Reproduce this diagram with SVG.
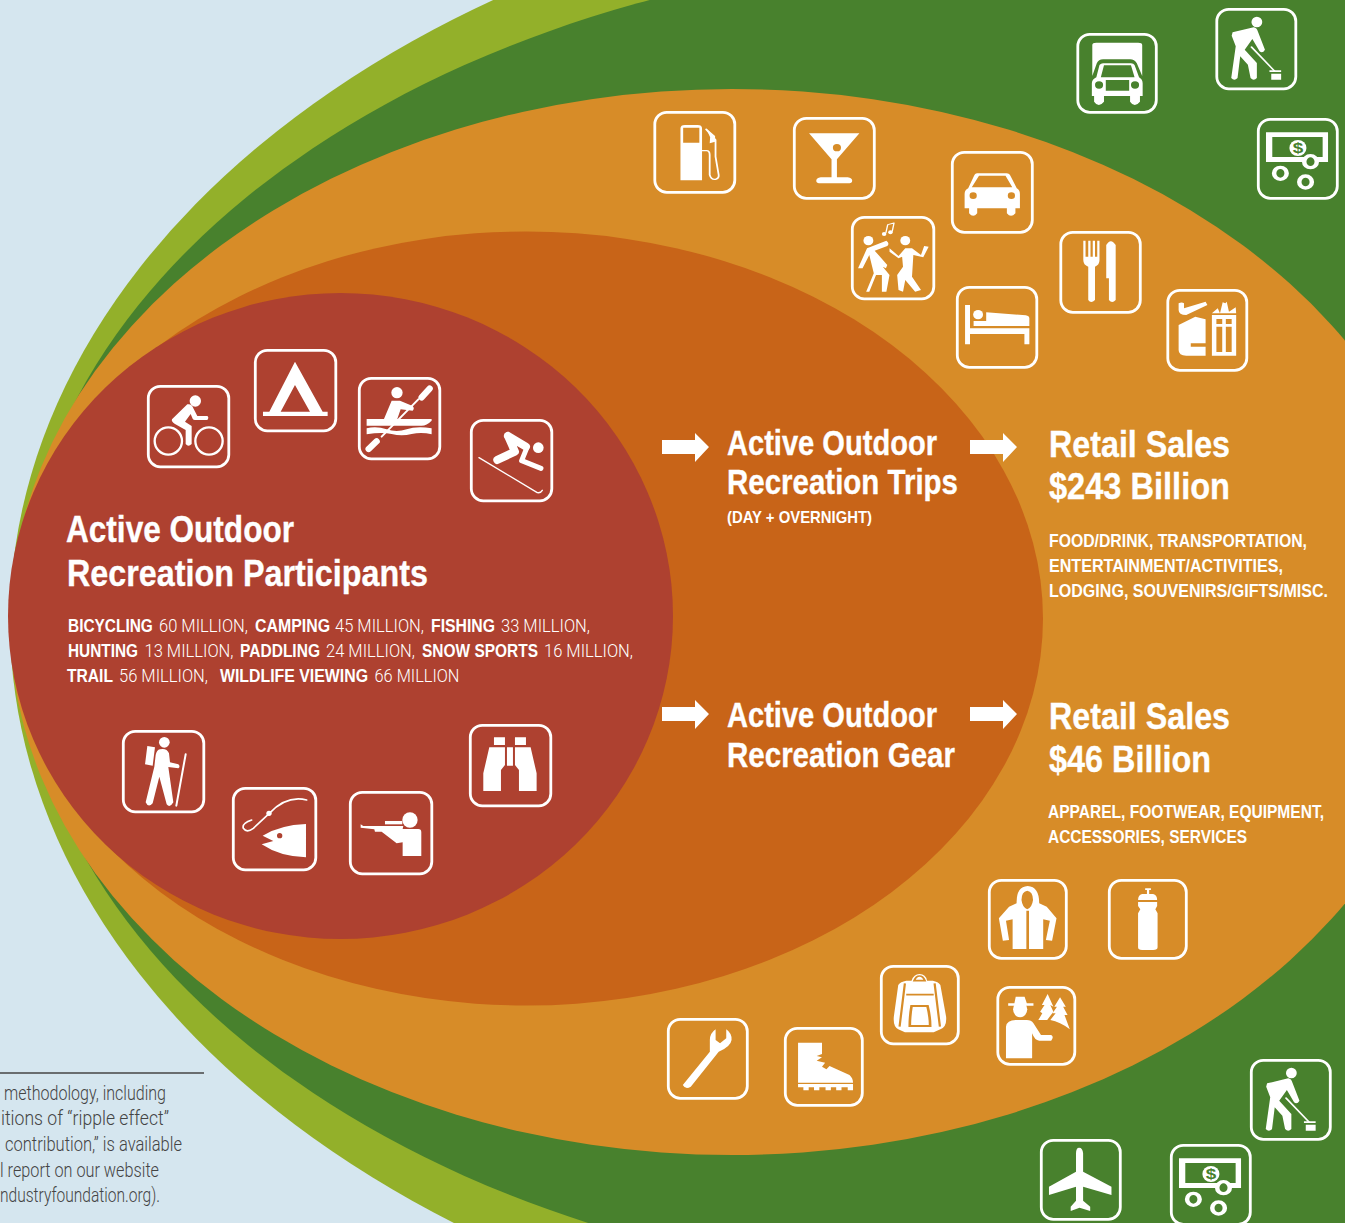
<svg xmlns="http://www.w3.org/2000/svg" xmlns:xlink="http://www.w3.org/1999/xlink" width="1345" height="1223" viewBox="0 0 1345 1223">
<style>
.b{fill:none;stroke:#fff;stroke-width:2.8}
.w{fill:#fff}
.e{fill:#fff;fill-rule:evenodd}
.s{fill:none;stroke:#fff;stroke-linecap:round;stroke-linejoin:round}
text{fill:#fff;font-family:"Liberation Sans Narrow","Liberation Sans",Arial,sans-serif;font-weight:700}
.h1{font-size:37px;stroke:#fff;stroke-width:.35}
.h2{font-size:35px;stroke:#fff;stroke-width:.35}
.m{font-size:18.5px}
.l{font-family:Roboto,"Liberation Sans",sans-serif;font-weight:300;font-size:18.5px}
.f{fill:#444;font-family:Roboto,"Liberation Sans",sans-serif;font-weight:300;font-size:19.5px}
</style>
<defs>
<g id="sweeper" transform="scale(.4496 .3333) translate(-1280 -25)">
<ellipse class="w" cx="1372" cy="67" rx="12" ry="16"/>
<path class="w" d="M1318,98 L1365,83 Q1372,85 1374,95 L1390,150 Q1385,162 1378,155 L1362,118 L1345,150 L1372,190 L1372,235 Q1365,245 1358,235 L1352,195 L1335,170 L1329,235 Q1322,245 1315,235 L1325,140 L1316,108Z"/>
<path class="s" stroke-width="4" d="M1360,142 L1412,215"/>
<path class="w" d="M1400,212 H1426 V217 H1400Z M1404,222 H1426 V240 H1404Z"/>
</g>
<g id="money" transform="scale(.4496 .3333) translate(-1372 -353)">
<path class="e" d="M1392,396 H1530 V485 H1392Z M1406,410 V470 H1518 V410Z"/>
<ellipse class="w" cx="1463" cy="443" rx="19" ry="24"/>
<text x="1463" y="458" text-anchor="middle" font-size="42" style="fill:#48812d">$</text>
<ellipse cx="1491" cy="484" rx="14" ry="18" fill="#48812d" stroke="#fff" stroke-width="10"/>
<ellipse class="s" cx="1424" cy="519" rx="14" ry="18" stroke-width="10"/>
<ellipse class="s" cx="1480" cy="545" rx="14" ry="18" stroke-width="10"/>
</g>
</defs>

<rect width="1345" height="1223" fill="#d5e6ef"/>
<g id="bands">
<ellipse cx="1110" cy="621" rx="1100" ry="750" fill="#93b02a"/>
<ellipse cx="1020" cy="620.500" rx="1000" ry="668" fill="#48812d"/>
<rect x="1000" y="0" width="345" height="1223" fill="#48812d"/>
<ellipse cx="732" cy="622" rx="722" ry="533" fill="#d78c28"/>
<ellipse cx="526" cy="618.500" rx="517" ry="387" fill="#c86418"/>
<ellipse cx="340.500" cy="616" rx="332.500" ry="323" fill="#ae4130"/>
</g>

<g id="connectors" class="w">
<path d="M662,440 H695 V433 L709,447 L695,462 V454 H662Z"/>
<path d="M970,440 H1003 V433 L1017,447 L1003,462 V454 H970Z"/>
<path d="M662,707 H695 V700 L709,714 L695,729 V721 H662Z"/>
<path d="M970,707 H1003 V700 L1017,714 L1003,729 V721 H970Z"/>
</g>

<!-- participant icons -->
<g id="icon-bicycling"><rect class="b" x="148.300" y="386.300" width="80.500" height="80.500" rx="12"/>
<g transform="translate(110 340) scale(.3333)">
<circle class="s" cx="175" cy="303" r="41" stroke-width="7"/><circle class="s" cx="297" cy="303" r="41" stroke-width="7"/>
<circle class="w" cx="256" cy="183" r="17"/>
<path class="w" d="M186,238 L232,193 Q245,190 250,205 L262,228 L292,228 Q298,233 292,240 L255,240 Q250,240 248,236 L242,222 L225,245 L245,258 L245,312 Q235,322 227,312 L227,270 L195,252 Q183,245 186,238Z"/>
</g></g>
<g id="icon-camping"><rect class="b" x="255.300" y="350.300" width="80.500" height="80.500" rx="12"/>
<g transform="translate(110 340) scale(.3333)">
<path class="e" d="M555,65 L638,215 H653 V228 H459 V215 H478Z M555,135 L512,215 H600Z"/>
</g></g>
<g id="icon-paddling"><rect class="b" x="359.300" y="378.300" width="80.500" height="80.500" rx="12"/>
<g transform="translate(110 340) scale(.3333)">
<circle class="w" cx="861" cy="158" r="17"/>
<path class="s" stroke-width="6" d="M925,178 L815,290"/>
<path class="s" stroke-width="19" d="M935,172 L959,146 M776,327 L800,304"/>
<path class="w" d="M845,182 L870,182 L908,198 Q915,205 908,212 L872,208 L862,237 L822,237Z"/>
<path class="w" d="M770,237 H965 V242 Q950,257 935,257 H770Z"/>
<path class="w" d="M770,265 Q800,258 830,268 T890,268 T965,265 V283 Q935,275 905,282 T845,282 T770,283Z"/>
</g></g>
<g id="icon-snow-sports"><rect class="b" x="471.300" y="420.300" width="80.500" height="80.500" rx="12"/>
<g transform="translate(110 340) scale(.3333)">
<circle class="w" cx="1285" cy="323" r="16"/>
<path class="s" stroke-width="4" d="M1107,353 L1282,458 Q1292,460 1297,451"/>
<path class="s" stroke-width="24" d="M1194,288 L1248,320 M1194,288 L1215,335 L1162,360"/>
<path class="s" stroke-width="15" d="M1250,325 L1235,362 L1293,385"/>
</g></g>
<g id="icon-trail"><rect class="b" x="123.300" y="731.300" width="80.500" height="80.500" rx="12"/>
<g transform="translate(110 715) scale(.3333)">
<circle class="w" cx="163" cy="82" r="16"/>
<path class="w" d="M112,93 L135,97 L128,152 L105,148Z"/>
<path class="w" d="M150,103 Q170,98 177,115 L180,142 L205,148 Q212,155 205,160 L175,156 L190,262 Q180,280 170,268 L148,185 L128,265 Q115,280 107,262 L133,155 L137,120 Q140,105 150,103Z"/>
<path class="s" stroke-width="6" d="M227,118 L199,272"/>
</g></g>
<g id="icon-fishing"><rect class="b" x="233.300" y="788.300" width="82.500" height="81.500" rx="12"/>
<g transform="translate(110 715) scale(.3333)">
<path class="s" stroke-width="5" d="M590,255 Q530,240 478,295 L430,340 Q410,355 400,340 Q395,325 425,315"/>
<circle class="w" cx="477" cy="295" r="8"/>
<path class="e" d="M588,327 V427 Q510,425 455,388 L490,378 L458,362 Q510,330 588,327Z M509,354 A8,8 0 1 0 509.100,370 A8,8 0 1 0 509,354Z"/>
</g></g>
<g id="icon-hunting"><rect class="b" x="350.300" y="792.300" width="81.500" height="81.500" rx="12"/>
<g transform="translate(110 715) scale(.3333)">
<circle class="w" cx="900" cy="315" r="23"/>
<rect class="w" x="825" y="318" width="52" height="10"/>
<path class="w" d="M878,342 H925 Q934,342 934,352 V423 H878 V382 L860,385 L815,350 H795 L793,343 L752,338 V328 L760,333 H880Z"/>
</g></g>
<g id="icon-wildlife-viewing"><rect class="b" x="470.300" y="725.300" width="80.500" height="80.500" rx="12"/>
<g transform="translate(110 715) scale(.3333)">
<path class="w" d="M1152,67 H1185 V90 H1152Z M1215,67 H1248 V90 H1215Z M1191,97 H1209 V152 H1191Z M1138,97 H1185 V150 L1173,165 V228 H1120 V175Z M1262,97 H1215 V150 L1227,165 V228 H1280 V175Z"/>
</g></g>

<!-- trip icons -->
<g id="icon-gas"><rect class="b" x="654.800" y="112.300" width="80" height="80" rx="12"/>
<g transform="translate(640 0) scale(.4496 .3333)">
<path class="e" d="M90,385 Q90,375 100,375 H128 Q138,375 138,385 V541 H90Z M96,383 V428 H132 V383Z"/>
<path class="s" stroke-width="4" d="M138,452 H148 Q155,452 155,465 L155,525 Q158,540 168,538 Q176,535 175,525 L168,470 V420 L147,388"/>
<path class="w" d="M147,385 L167,408 V425 L155,430 L156,412Z"/>
</g></g>
<g id="icon-drink"><rect class="b" x="794.300" y="118.300" width="80" height="80" rx="12"/>
<g transform="translate(640 0) scale(.4496 .3333)">
<path class="e" d="M376,400 H488 L438,478 V532 H462 Q472,534 472,542 Q472,550 462,550 H402 Q392,550 392,542 Q392,534 402,532 H426 V478Z M438,432 A9,11 0 1 0 438.100,454 A9,11 0 1 0 438,432Z"/>
</g></g>
<g id="icon-car"><rect class="b" x="952.300" y="152.300" width="80" height="80" rx="12"/>
<g transform="translate(640 0) scale(.4496 .3333)">
<path class="e" d="M750,520 H815 Q822,520 825,530 L838,565 Q845,570 845,582 V625 H835 V640 Q825,655 816,640 V625 H750 V640 Q741,655 732,640 V625 H722 V582 Q722,570 730,565 L742,530 Q745,520 750,520Z M754,527 L738,562 H828 L813,527Z M741,577 A8,10 0 1 0 741.100,597 A8,10 0 1 0 741,577Z M826,577 A8,10 0 1 0 826.100,597 A8,10 0 1 0 826,577Z"/>
</g></g>
<g id="icon-entertainment"><rect class="b" x="852.300" y="217.300" width="81.500" height="81.500" rx="12"/>
<g transform="translate(640 0) scale(.4496 .3333)">
<ellipse class="w" cx="508" cy="722" rx="11" ry="14"/><ellipse class="w" cx="590" cy="722" rx="11" ry="14"/>
<path class="s" stroke-width="3" d="M547,698 L551,674 L565,669 L561,694"/>
<ellipse class="w" cx="543" cy="702" rx="5" ry="6"/><ellipse class="w" cx="557" cy="697" rx="5" ry="6"/>
<path class="w" d="M505,745 L548,722 Q556,730 550,738 L522,752 L550,795 L547,805 L540,800 L555,825 L548,875 H538 L538,825 L525,825 L510,875 H503 L520,820 L510,765 L495,805 H485 L500,760Z"/>
<path class="w" d="M555,745 L575,768 L590,745 L605,745 L625,765 L632,738 L642,740 L630,772 L608,765 L605,830 L625,870 L612,875 L590,840 L585,875 L575,870 L572,825 L585,800 L583,770 L575,775 L555,755Z"/>
</g></g>
<g id="icon-food"><rect class="b" x="1060.800" y="232.300" width="79.500" height="80" rx="12"/>
<g transform="translate(640 0) scale(.4496 .3333)">
<path class="w" d="M986,722 V780 Q986,795 997,800 V900 Q1003,912 1012,900 V800 Q1022,795 1022,780 V722 H1017 V770 H1012 V722 H1007 V770 H1002 V722 H997 V770 H991 V722Z"/>
<path class="w" d="M1037,735 Q1047,712 1058,735 V900 Q1050,912 1043,900 V835 H1037Z"/>
</g></g>
<g id="icon-lodging"><rect class="b" x="957.300" y="287.300" width="79.500" height="80" rx="12"/>
<g transform="translate(640 0) scale(.4496 .3333)">
<ellipse class="w" cx="752" cy="944" rx="11" ry="14"/>
<path class="w" d="M723,915 H734 V985 H866 V1033 H855 V1002 H734 V1033 H723Z"/>
<path class="w" d="M770,937 L858,946 Q866,948 866,955 V978 H742 V963 H770Z"/>
</g></g>
<g id="icon-souvenirs"><rect class="b" x="1167.800" y="290.300" width="79" height="80" rx="12"/>
<g transform="translate(640 0) scale(.4496 .3333)">
<path class="w" d="M1198,910 Q1205,905 1210,910 V925 L1258,905 L1262,915 L1215,945 Q1198,945 1198,930Z"/>
<path class="w" d="M1235,950 L1258,958 V1030 H1225 V1040 H1258 V1067 H1215 Q1198,1067 1198,1050 V975Z"/>
<path class="e" d="M1272,945 H1326 V1067 H1272Z M1282,957 V972 H1295 V957Z M1303,957 V972 H1316 V957Z M1282,980 V1056 H1295 V980Z M1303,980 V1056 H1316 V980Z"/>
<path class="w" d="M1272,940 L1285,925 L1290,940 L1296,907 L1302,910 L1305,905 L1310,935 L1325,922 L1326,940Z"/>
</g></g>
<g id="icon-truck"><rect class="b" x="1077.800" y="34.300" width="78.500" height="78" rx="12"/>
<g transform="translate(640 0) scale(.4496 .3333)">
<path class="w" d="M1006,135 Q1006,128 1015,128 H1108 Q1117,128 1117,135 V228 L1105,190 Q1100,178 1090,178 H1030 Q1020,178 1016,190 L1006,228Z"/>
<path class="e" d="M1030,190 H1092 Q1098,190 1100,195 L1110,232 Q1118,238 1118,250 V288 H1112 V305 Q1100,325 1090,305 V288 H1032 V305 Q1020,325 1010,305 V288 H1005 V250 Q1005,238 1015,232 L1022,195 Q1025,190 1030,190Z M1032,196 L1025,232 H1100 L1092,196Z M1021,244 A9,11 0 1 0 1021.100,266 A9,11 0 1 0 1021,244Z M1101,244 A9,11 0 1 0 1101.100,266 A9,11 0 1 0 1101,244Z M1036,240 V272 H1088 V240Z"/>
</g></g>
<g id="icon-services-1"><rect class="b" x="1216.800" y="9.300" width="79" height="79.500" rx="12"/>
<use xlink:href="#sweeper" href="#sweeper" transform="translate(1215.500 8)"/></g>
<g id="icon-taxes-1"><rect class="b" x="1258.300" y="119.300" width="79" height="79" rx="12"/>
<use xlink:href="#money" href="#money" transform="translate(1257 118)"/></g>

<!-- gear icons -->
<g id="icon-apparel"><rect class="b" x="989.300" y="880.300" width="77" height="78" rx="12"/>
<g transform="translate(650 870) scale(.4433 .3333)">
<path class="e" d="M852,48 Q878,50 878,100 L895,110 L917,145 L907,212 L893,210 L902,152 L887,148 V237 H855 V122 H849 V237 H818 V148 L803,152 L810,210 L796,212 L787,145 L810,110 L827,100 Q826,50 852,48Z M851,62 Q838,65 838,90 Q840,112 851,118 Q862,112 864,90 Q864,65 851,62Z"/>
</g></g>
<g id="icon-bottle"><rect class="b" x="1109.300" y="880.300" width="77" height="78" rx="12"/>
<g transform="translate(650 870) scale(.4433 .3333)">
<path class="w" d="M1117,55 H1130 V60 H1126 V72 H1135 Q1144,75 1144,90 H1101 Q1101,75 1110,72 H1121 V60 H1117Z"/>
<path class="w" d="M1101,96 H1144 V108 L1140,118 L1145,130 V232 Q1145,240 1135,240 H1110 Q1101,240 1101,232 V130 L1106,118 L1101,108Z"/>
</g></g>
<g id="icon-backpack"><rect class="b" x="881.300" y="966.300" width="77" height="77.500" rx="12"/>
<g transform="translate(650 870) scale(.4433 .3333)">
<path class="w" d="M608,312 Q622,312 625,332 H638 Q650,335 655,345 L668,440 Q670,470 655,478 L640,487 H575 L560,478 Q548,470 550,440 L560,345 Q565,335 578,332 H590 Q595,312 608,312Z"/>
<path d="M596,332 Q600,318 608,318 Q616,318 620,332Z M575,340 L563,470 M642,340 L654,470 M578,374 H640" fill="none" stroke="#d78c28" stroke-width="5"/>
<path d="M590,408 H626 Q632,440 632,468 H586 Q586,440 590,408Z" fill="#fff" stroke="#d78c28" stroke-width="6"/>
</g></g>
<g id="icon-ranger"><rect class="b" x="997.800" y="987.300" width="77" height="77" rx="12"/>
<g transform="translate(650 870) scale(.4433 .3333)">
<ellipse class="w" cx="835" cy="418" rx="16" ry="24"/>
<path class="w" d="M808,400 H865 V407 H808Z M822,400 L825,380 H845 L850,400Z"/>
<path class="w" d="M803,470 Q805,450 825,450 H850 Q860,450 865,460 L882,495 H905 Q912,500 905,512 H878 Q868,512 862,490 V565 H803Z"/>
<path class="w" d="M897,372 L910,410 L903,405 L910,425 L896,450 H876 L885,430 L880,425 L890,405 L884,405Z"/>
<path class="w" d="M925,382 L938,410 L932,410 L942,435 L935,435 L947,478 Q925,455 903,450 L915,430 L908,430 L918,410 L912,410Z"/>
</g></g>
<g id="icon-wrench"><rect class="b" x="668.300" y="1019.300" width="79" height="79" rx="12"/>
<g transform="translate(650 870) scale(.4433 .3333)">
<path class="w" d="M148,478 V510 L158,520 L172,505 V478 Q185,490 184,510 Q182,530 155,545 L92,650 Q80,660 74,645 L135,545 Q135,525 135,510 Q135,490 148,478Z"/>
</g></g>
<g id="icon-boot"><rect class="b" x="785.300" y="1028.300" width="77" height="77" rx="12"/>
<g transform="translate(650 870) scale(.4433 .3333)">
<path class="w" d="M334,518 H388 V552 L376,558 L388,562 L376,572 L395,578 L388,590 L398,598 L405,588 L450,615 Q458,625 458,638 H334Z"/>
<path class="w" d="M334,642 H458 V661 H446 V652 H432 V661 H420 V652 H408 V661 H396 V652 H382 V661 H370 V652 H358 V661 H346 V652 H334Z"/>
</g></g>
<g id="icon-services-2"><rect class="b" x="1251.300" y="1060.300" width="79" height="79" rx="12"/>
<use xlink:href="#sweeper" href="#sweeper" transform="translate(1250 1059)"/></g>
<g id="icon-plane"><rect class="b" x="1041.300" y="1140.300" width="79" height="79" rx="12"/>
<g transform="translate(650 870) scale(.4433 .3333)">
<path class="w" d="M968,833 Q976,833 977,850 V905 L1041,950 V975 L977,950 V992 L993,1010 V1023 L969,1013 L949,1023 V1010 L961,992 V950 L900,975 V950 L961,905 V850 Q961,833 968,833Z"/>
</g></g>
<g id="icon-taxes-2"><rect class="b" x="1171.300" y="1145.300" width="79" height="79" rx="12"/>
<use xlink:href="#money" href="#money" transform="translate(1170 1144)"/></g>

<!-- text -->
<g id="participants-text">
<text class="h1" x="66" y="541.500" textLength="228" lengthAdjust="spacingAndGlyphs">Active Outdoor</text>
<text class="h1" x="67" y="585.500" textLength="361" lengthAdjust="spacingAndGlyphs">Recreation Participants</text>
<text class="m" transform="translate(68 631.500) scale(.8 1)" textLength="106" lengthAdjust="spacingAndGlyphs">BICYCLING</text>
<text class="l" transform="translate(159 631.500) scale(.85 1)" textLength="104.700" lengthAdjust="spacingAndGlyphs">60 MILLION,</text>
<text class="m" transform="translate(255 631.500) scale(.8 1)" textLength="93.800" lengthAdjust="spacingAndGlyphs">CAMPING</text>
<text class="l" transform="translate(335 631.500) scale(.85 1)" textLength="104.700" lengthAdjust="spacingAndGlyphs">45 MILLION,</text>
<text class="m" transform="translate(431 631.500) scale(.8 1)" textLength="80" lengthAdjust="spacingAndGlyphs">FISHING</text>
<text class="l" transform="translate(501 631.500) scale(.85 1)" textLength="104.700" lengthAdjust="spacingAndGlyphs">33 MILLION,</text>
<text class="m" transform="translate(68 656.500) scale(.8 1)" textLength="87.500" lengthAdjust="spacingAndGlyphs">HUNTING</text>
<text class="l" transform="translate(144.500 656.500) scale(.85 1)" textLength="104.700" lengthAdjust="spacingAndGlyphs">13 MILLION,</text>
<text class="m" transform="translate(240 656.500) scale(.8 1)" textLength="100" lengthAdjust="spacingAndGlyphs">PADDLING</text>
<text class="l" transform="translate(326 656.500) scale(.85 1)" textLength="104.700" lengthAdjust="spacingAndGlyphs">24 MILLION,</text>
<text class="m" transform="translate(422 656.500) scale(.8 1)" textLength="145" lengthAdjust="spacingAndGlyphs">SNOW SPORTS</text>
<text class="l" transform="translate(544 656.500) scale(.85 1)" textLength="104.700" lengthAdjust="spacingAndGlyphs">16 MILLION,</text>
<text class="m" transform="translate(67 681.500) scale(.8 1)" textLength="57.500" lengthAdjust="spacingAndGlyphs">TRAIL</text>
<text class="l" transform="translate(119 681.500) scale(.85 1)" textLength="104.700" lengthAdjust="spacingAndGlyphs">56 MILLION,</text>
<text class="m" transform="translate(220 681.500) scale(.8 1)" textLength="185" lengthAdjust="spacingAndGlyphs">WILDLIFE VIEWING</text>
<text class="l" transform="translate(374.500 681.500) scale(.85 1)" textLength="100" lengthAdjust="spacingAndGlyphs">66 MILLION</text>
</g>
<g id="trips-text">
<text class="h2" x="727" y="455" textLength="210" lengthAdjust="spacingAndGlyphs">Active Outdoor</text>
<text class="h2" x="727" y="494" textLength="231" lengthAdjust="spacingAndGlyphs">Recreation Trips</text>
<text x="727" y="523" font-size="17" textLength="145" lengthAdjust="spacingAndGlyphs">(DAY + OVERNIGHT)</text>
</g>
<g id="trips-sales-text">
<text class="h1" x="1049" y="457" textLength="181" lengthAdjust="spacingAndGlyphs">Retail Sales</text>
<text class="h1" x="1049" y="499" textLength="181" lengthAdjust="spacingAndGlyphs">$243 Billion</text>
<text class="m" transform="translate(1049 546.500) scale(.8 1)" textLength="322.500" lengthAdjust="spacingAndGlyphs">FOOD/DRINK, TRANSPORTATION,</text>
<text class="m" transform="translate(1049 571.500) scale(.8 1)" textLength="292.500" lengthAdjust="spacingAndGlyphs">ENTERTAINMENT/ACTIVITIES,</text>
<text class="m" transform="translate(1049 596.500) scale(.8 1)" textLength="348.800" lengthAdjust="spacingAndGlyphs">LODGING, SOUVENIRS/GIFTS/MISC.</text>
</g>
<g id="gear-text">
<text class="h2" x="727" y="727" textLength="210" lengthAdjust="spacingAndGlyphs">Active Outdoor</text>
<text class="h2" x="727" y="767" textLength="228" lengthAdjust="spacingAndGlyphs">Recreation Gear</text>
</g>
<g id="gear-sales-text">
<text class="h1" x="1049" y="729" textLength="181" lengthAdjust="spacingAndGlyphs">Retail Sales</text>
<text class="h1" x="1049" y="772" textLength="162" lengthAdjust="spacingAndGlyphs">$46 Billion</text>
<text class="m" transform="translate(1048 818) scale(.8 1)" textLength="345" lengthAdjust="spacingAndGlyphs">APPAREL, FOOTWEAR, EQUIPMENT,</text>
<text class="m" transform="translate(1048 843) scale(.8 1)" textLength="248.800" lengthAdjust="spacingAndGlyphs">ACCESSORIES, SERVICES</text>
</g>
<g id="footnote">
<line x1="0" y1="1073" x2="204" y2="1073" stroke="#444" stroke-width="1.300"/>
<text class="f" x="4" y="1100" textLength="162" lengthAdjust="spacingAndGlyphs">methodology, including</text>
<text class="f" x="1" y="1125" textLength="168" lengthAdjust="spacingAndGlyphs">itions of  “ripple  effect”</text>
<text class="f" x="5" y="1151" textLength="177" lengthAdjust="spacingAndGlyphs">contribution,” is available</text>
<text class="f" x="0" y="1177" textLength="159" lengthAdjust="spacingAndGlyphs">l report on our website</text>
<text class="f" x="0" y="1202" textLength="160" lengthAdjust="spacingAndGlyphs">ndustryfoundation.org).</text>
</g>
</svg>
